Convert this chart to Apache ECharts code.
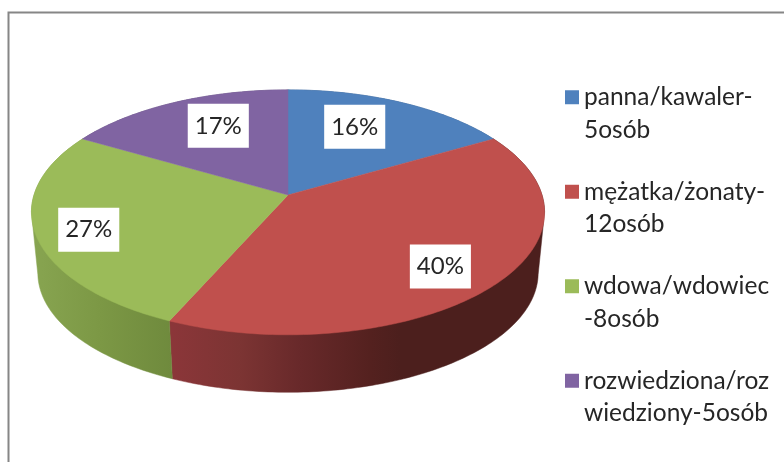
<!DOCTYPE html>
<html>
<head>
<meta charset="utf-8">
<style>
html, body { margin: 0; padding: 0; background: #fff; }
#chart { width: 784px; height: 462px; }
</style>
<script src="https://cdn.jsdelivr.net/npm/echarts@6/dist/echarts.min.js"></script>
</head>
<body>
<div id="chart"></div>
<script>
// dane wykresu
var categories = ['panna/kawaler-\n5osób', 'mężatka/żonaty-\n12osób', 'wdowa/wdowiec\n-8osób', 'rozwiedziona/roz\nwiedziony-5osób'];
var counts = [5, 12, 8, 5];
var percentLabels = ['16%', '40%', '27%', '17%'];

// kolory
var topColors = ['#4f81bd', '#c0504d', '#9bbb59', '#8064a2'];
// cieniowanie scianki bocznej: [x, kolor]
var wallShades = [
  [[288, '#3a5e8a'], [500, '#3a5e8a']],
  [[172, '#8b3639'], [240, '#7c3433'], [300, '#68292a'], [370, '#54211f'], [400, '#4c1f1d'], [545, '#4c1f1d']],
  [[36, '#87a450'], [100, '#7c9845'], [172, '#6f8a3d']],
  [[80, '#5e4a78'], [288, '#5e4a78']]
];

// uklad: rzut perspektywiczny kola
var CX = 288, TOP_Y = 195, BOTTOM_Y = 256;
var RX = 254, RY = 120, PERSP = 0.1415, BOTTOM_SCALE = 0.975;
var labelRadius = [0.68, 0.8, 0.8, 0.68];
var labelNudge = [[-13, -3], [-11, 2], [1, 4], [10, -4]];

var total = counts.reduce(function (a, b) { return a + b; }, 0);
// katy, przy ktorych widac krawedz boczna
var EDGE_R = Math.acos(-PERSP) * 180 / Math.PI, EDGE_L = 360 - EDGE_R;

function project(deg, f, baseY, scale) {
  var rad = deg * Math.PI / 180;
  var u = Math.sin(rad) * f, v = Math.cos(rad) * f;
  var w = 1 + PERSP * v;
  return [CX + RX * scale * u / w, baseY - RY * scale * v / w];
}

function wallGradient(stops) {
  var x0 = stops[0][0], x1 = stops[stops.length - 1][0];
  return new echarts.graphic.LinearGradient(x0, 0, x1, 0, stops.map(function (s) {
    return { offset: (s[0] - x0) / (x1 - x0), color: s[1] };
  }), true);
}

function sliceRender(index) {
  return function (params, api) {
    var before = counts.slice(0, index).reduce(function (a, b) { return a + b; }, 0);
    var startDeg = before / total * 360;
    var endDeg = (before + api.value(0)) / total * 360;
    var steps = Math.ceil(endDeg - startDeg);
    var arc = [project(0, 0, TOP_Y, 1)];
    var wall = [project(startDeg, 1, TOP_Y, 1)];
    var s;
    for (s = 0; s <= steps; s++) {
      var deg = startDeg + (endDeg - startDeg) * s / steps;
      arc.push(project(deg, 1, TOP_Y, 1));
      if (deg > EDGE_R && deg < EDGE_L) {
        wall.push(project(deg, 1, BOTTOM_Y, BOTTOM_SCALE));
      } else {
        wall.push(project(deg, 1, TOP_Y, 1));
      }
    }
    wall.push(project(endDeg, 1, TOP_Y, 1));
    var grad = wallGradient(wallShades[index]);
    var mid = project((startDeg + endDeg) / 2, labelRadius[index], TOP_Y, 1);
    return {
      type: 'group',
      children: [{
        // scianka boczna
        type: 'polygon', z2: 1, silent: true,
        shape: { points: wall },
        style: { fill: grad, stroke: grad, lineWidth: 0.5 }
      }, {
        // gorna powierzchnia
        type: 'polygon', z2: 10, silent: true,
        shape: { points: arc },
        style: { fill: topColors[index], stroke: topColors[index], lineWidth: 0.5 }
      }, {
        // etykieta procentowa
        type: 'text', z2: 20, silent: true,
        x: mid[0] + labelNudge[index][0],
        y: mid[1] + labelNudge[index][1],
        style: {
          text: percentLabels[index],
          align: 'center', verticalAlign: 'middle',
          font: '24px Lato',
          fill: '#262626',
          backgroundColor: '#fff',
          padding: [12, 7, 8, 7]
        }
      }]
    };
  };
}

var chart = echarts.init(document.getElementById('chart'), null, { renderer: 'canvas' });
chart.setOption({
  animation: false,
  backgroundColor: '#fff',
  tooltip: { show: false },
  legend: {
    orient: 'vertical',
    left: 565,
    top: 46,
    padding: 0,
    icon: 'rect',
    itemWidth: 14,
    itemHeight: 14,
    itemGap: -8,
    selectedMode: false,
    data: categories,
    formatter: function (name) { return '\n' + name; },
    textStyle: {
      fontFamily: 'Lato',
      fontSize: 24.5,
      lineHeight: 32.5,
      color: '#262626',
      padding: [5, 0, 0, 0]
    }
  },
  graphic: [{
    type: 'polyline', silent: true,
    shape: { points: [[8.5, 462], [8.5, 12.5], [784, 12.5]] },
    style: { stroke: '#868686', lineWidth: 2, fill: null }
  }],
  series: categories.map(function (name, i) {
    return {
      type: 'custom',
      name: name,
      coordinateSystem: 'none',
      itemStyle: { color: topColors[i] },
      renderItem: sliceRender(i),
      data: [[counts[i]]]
    };
  })
});
</script>
</body>
</html>
